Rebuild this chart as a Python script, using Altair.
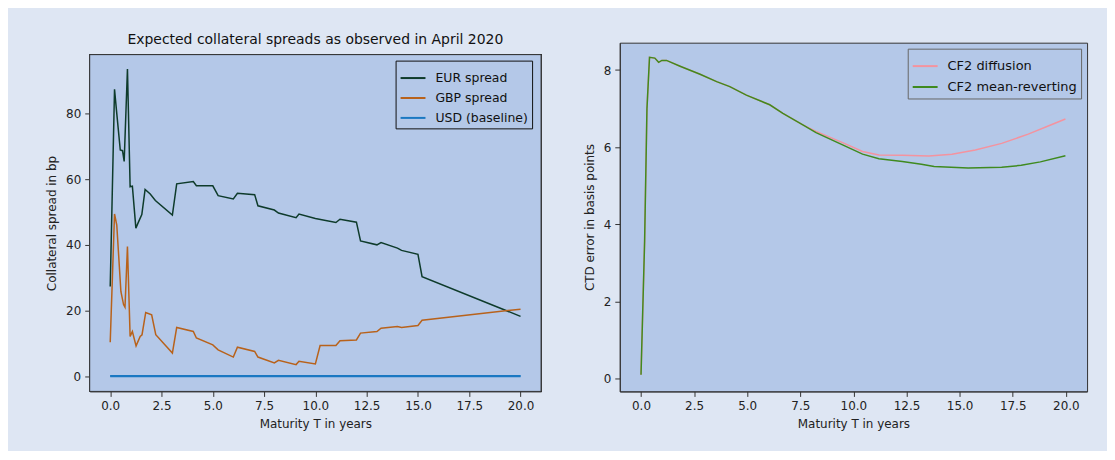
import altair as alt
import pandas as pd

# ---------- left panel data ----------
eur_x = [0, 0.21, 0.32, 0.49, 0.6, 0.68, 0.84, 0.97, 1.08, 1.25, 1.38, 1.54, 1.70, 1.95, 2.2, 3.03, 3.24,
         4.05, 4.2, 5.0, 5.26, 6.0, 6.2, 7.04, 7.2, 8.0, 8.2, 9.06, 9.2, 10.0, 11.0, 11.2, 12.0, 12.2,
         13.0, 13.2, 14.0, 14.2, 15.0, 15.2, 20.0]
eur_y = [27.3, 87.4, 80.0, 68.9, 68.7, 65.4, 93.6, 57.7, 57.9, 45.1, 47.0, 49.2, 56.9, 55.5, 53.5, 49.1, 58.6,
         59.3, 58.0, 58.0, 55.0, 54.0, 55.7, 55.3, 51.9, 50.6, 49.7, 48.3, 49.4, 48.0, 46.8, 47.8, 46.9, 41.2,
         40.0, 40.7, 39.0, 38.3, 37.1, 30.3, 18.2]

gbp_x = [0, 0.21, 0.32, 0.52, 0.65, 0.72, 0.84, 0.97, 1.08, 1.26, 1.46, 1.55, 1.73, 2.02, 2.22, 3.03, 3.24,
         4.05, 4.2, 5.0, 5.26, 6.0, 6.2, 7.04, 7.2, 8.0, 8.2, 9.06, 9.2, 10.0, 10.23, 11.0, 11.2, 12.0, 12.2,
         13.0, 13.2, 14.0, 14.2, 15.0, 15.2, 20.0]
gbp_y = [10.3, 49.4, 46.0, 25.8, 21.8, 21.0, 39.5, 12.1, 13.6, 9.2, 12.1, 12.6, 19.4, 18.7, 12.6, 7.0, 14.8,
         13.6, 11.6, 9.5, 8.0, 5.8, 8.8, 7.5, 5.8, 4.0, 4.8, 3.5, 4.5, 3.7, 9.3, 9.3, 10.8, 11.0, 13.1,
         13.6, 14.6, 15.1, 14.8, 15.4, 17.0, 20.4]

usd_x = [0, 20.0]
usd_y = [0, 0]

left_series = ["EUR spread", "GBP spread", "USD (baseline)"]
left_colors = ["#0e3b2b", "#b8621b", "#1a78c2"]
left_y_domain = [-4.67, 97.97]
left_y_ticks = [0, 20, 40, 60, 80]

# ---------- right panel data ----------
diff_x = [0, 0.17, 0.28, 0.4, 0.65, 0.83, 0.98, 1.2, 1.84, 2.78, 3.56, 4.18, 4.96, 6.06, 6.68, 7.62, 8.24,
          9.49, 10.43, 11.2, 12.3, 13.55, 14.64, 15.74, 16.98, 18.23, 19.17, 19.98]
diff_y = [0.1, 3.57, 7.0, 8.33, 8.31, 8.2, 8.25, 8.25, 8.1, 7.89, 7.7, 7.57, 7.35, 7.1, 6.88, 6.58, 6.41,
          6.12, 5.89, 5.8, 5.79, 5.77, 5.82, 5.93, 6.1, 6.34, 6.55, 6.73]

mr_x = [0, 0.17, 0.28, 0.4, 0.65, 0.83, 0.98, 1.2, 1.84, 2.78, 3.56, 4.18, 4.96, 6.06, 6.68, 7.62, 8.24,
        9.49, 10.43, 11.2, 12.3, 13.2, 13.8, 15.4, 16.98, 17.9, 18.8, 19.98]
mr_y = [0.1, 3.57, 7.0, 8.33, 8.31, 8.2, 8.25, 8.25, 8.1, 7.89, 7.7, 7.57, 7.35, 7.1, 6.88, 6.58, 6.38,
        6.06, 5.82, 5.7, 5.63, 5.56, 5.5, 5.46, 5.48, 5.53, 5.62, 5.78]

right_series = ["CF2 diffusion", "CF2 mean-reverting"]
right_colors = ["#f4939f", "#3f8a1f"]
right_y_domain = [-0.33, 8.71]
right_y_ticks = [0, 2, 4, 6, 8]

x_domain = [-1, 21]
x_ticks = [0, 2.5, 5, 7.5, 10, 12.5, 15, 17.5, 20]


def frame(name, xs, ys):
    return pd.DataFrame({"T": xs, "v": ys, "series": name})


left_df = pd.concat([frame(left_series[0], eur_x, eur_y),
                     frame(left_series[1], gbp_x, gbp_y),
                     frame(left_series[2], usd_x, usd_y)], ignore_index=True)
right_df = pd.concat([frame(right_series[0], diff_x, diff_y),
                      frame(right_series[1], mr_x, mr_y)], ignore_index=True)

PLOT_BG = "#b4c8e8"
FRAME = "#333"
FONT = "DejaVu Sans"
X_SCALE = alt.Scale(domain=x_domain, nice=False, zero=False)


def xenc():
    return alt.X("T:Q", scale=X_SCALE,
                 axis=alt.Axis(values=x_ticks, format=".1f", title="Maturity T in years"))


def legend(stroke, size, **kw):
    return alt.Legend(title=None, strokeColor=stroke, fillColor=PLOT_BG,
                      padding=4, cornerRadius=0, symbolType="stroke", symbolSize=625,
                      symbolStrokeWidth=2, labelFontSize=size, labelFont=FONT, labelColor="#111",
                      rowPadding=0, labelOffset=9, **kw)


# left panel: its plot box is 12px shorter than the right one (matplotlib layout), so the
# y range starts 12px below the top of the shared row
left_y = alt.Y("v:Q", scale=alt.Scale(domain=left_y_domain, range=[350, 12], nice=False, zero=False),
               axis=alt.Axis(values=left_y_ticks, title="Collateral spread in bp"))

left_box = alt.Chart(left_df).mark_rect(fill=PLOT_BG, stroke=FRAME, strokeWidth=1).encode(
    x=alt.datum(x_domain[0]), x2=alt.datum(x_domain[1]),
    y=alt.datum(left_y_domain[1]), y2=alt.datum(left_y_domain[0]),
)

left_lines = alt.Chart(left_df).mark_line(strokeWidth=1.5).encode(
    x=xenc(),
    y=left_y,
    color=alt.Color("series:N", sort=left_series,
                    scale=alt.Scale(domain=left_series, range=left_colors),
                    legend=legend("#111", 12.5, orient="none", legendX=307, legendY=18)),
)

# USD baseline drawn a little heavier
usd_line = alt.Chart(left_df).transform_filter(
    alt.datum.series == left_series[2]
).mark_line(strokeWidth=2.2, color=left_colors[2]).encode(x=xenc(), y=left_y)

left = alt.layer(left_box, left_lines, usd_line).properties(
    width=453, height=350,
    view=alt.ViewBackground(fill="transparent", stroke="transparent"),
    title=alt.TitleParams("Expected collateral spreads as observed in April 2020", fontSize=14,
                          font=FONT, fontWeight="normal", offset=-4, color="#111"),
)

right = alt.Chart(right_df).mark_line(strokeWidth=1.5).encode(
    x=xenc(),
    y=alt.Y("v:Q", scale=alt.Scale(domain=right_y_domain, nice=False, zero=False),
            axis=alt.Axis(values=right_y_ticks, title="CTD error in basis points")),
    color=alt.Color("series:N", sort=right_series,
                    scale=alt.Scale(domain=right_series, range=right_colors),
                    legend=legend("#666", 13, orient="top-right", offset=6)),
).properties(
    width=469, height=350,
    view=alt.ViewBackground(fill=PLOT_BG, stroke=FRAME, strokeWidth=1),
)

chart = alt.hconcat(left, right, spacing=40).resolve_scale(
    color="independent"
).properties(
    background="#dee6f3",
    padding={"left": 37, "top": 23, "right": 19, "bottom": 20},
).configure(font=FONT).configure_axis(
    grid=False, domainColor=FRAME, tickColor=FRAME, tickSize=5, labelPadding=4,
    labelFontSize=12, titleFontSize=12, labelColor="#222", titleColor="#222",
    titleFontWeight="normal", labelFont=FONT, titleFont=FONT, titlePadding=7,
)

chart.save("out.html", embed_options={"renderer": "svg", "actions": False})
